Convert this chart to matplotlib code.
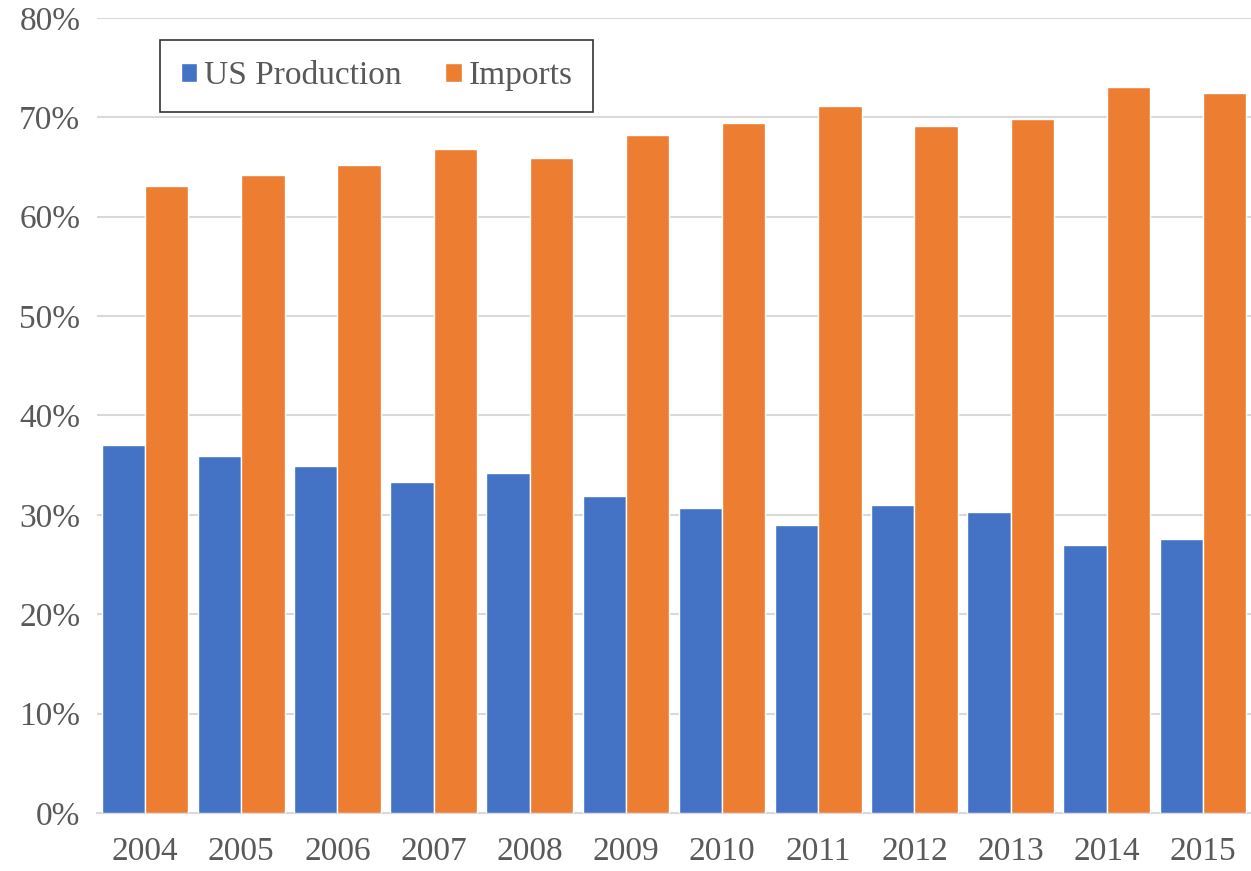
import matplotlib.pyplot as plt
import numpy as np
from matplotlib.ticker import PercentFormatter

years = ['2004', '2005', '2006', '2007', '2008', '2009', '2010', '2011', '2012', '2013', '2014', '2015']
us_production = [37.0, 35.9, 34.9, 33.3, 34.2, 31.9, 30.7, 29.0, 31.0, 30.3, 27.0, 27.6]
imports = [63.1, 64.2, 65.2, 66.8, 65.9, 68.2, 69.4, 71.1, 69.1, 69.8, 73.1, 72.5]

plt.rcParams['font.family'] = ['Liberation Serif', 'DejaVu Serif']
text_color = '#595959'

fig = plt.figure(figsize=(12.51, 8.71), dpi=100)
ax = fig.add_axes([97 / 1251, 58 / 871, 1154 / 1251, 795 / 871])

ind = np.arange(len(years))
width = 0.45
ax.bar(ind - width / 2, us_production, width, label='US Production', color='#4472C4',
       edgecolor='white', linewidth=1, zorder=3)
ax.bar(ind + width / 2, imports, width, label='Imports', color='#ED7D31',
       edgecolor='white', linewidth=1, zorder=3)

ax.set_xlim(-0.5, len(years) - 0.5)
ax.set_ylim(0, 80)
ax.set_yticks(np.arange(0, 81, 10))
ax.yaxis.set_major_formatter(PercentFormatter(decimals=0))
ax.set_xticks(ind)
ax.set_xticklabels(years)
ax.grid(axis='y', color='#D9D9D9', linewidth=1.5, zorder=0)
ax.tick_params(axis='both', length=0, labelsize=24, colors=text_color)
ax.tick_params(axis='x', pad=17)
ax.tick_params(axis='y', pad=12)
for s in ['top', 'right', 'left']:
    ax.spines[s].set_visible(False)
ax.spines['bottom'].set_color('#D9D9D9')
ax.spines['bottom'].set_linewidth(1.5)

leg = ax.legend(loc='upper left', bbox_to_anchor=(160 / 1251, 1 - 40 / 871),
                bbox_transform=fig.transFigure, ncol=2, fontsize=24,
                fancybox=False, edgecolor='black', handlelength=0.5, handleheight=0.5,
                handletextpad=0.2, columnspacing=1.3, borderpad=0.62, borderaxespad=0)
leg.get_frame().set_linewidth(1.2)
for t in leg.get_texts():
    t.set_color(text_color)

fig.savefig('out.png', dpi=100)
